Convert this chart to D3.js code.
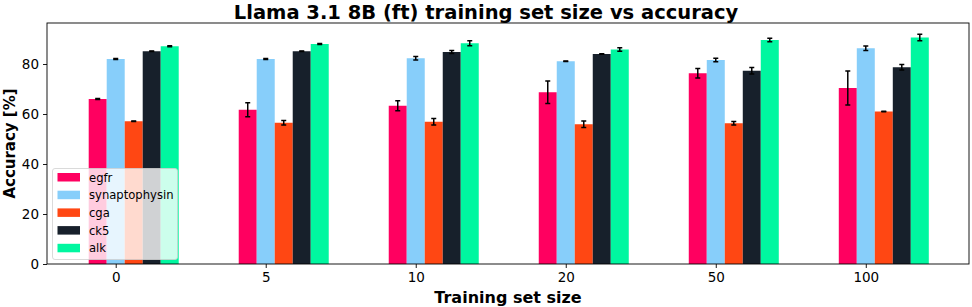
<!DOCTYPE html>
<html><head><meta charset="utf-8">
<script src="https://cdn.jsdelivr.net/npm/d3@7"></script>
<style>body{margin:0;background:#fff}svg{display:block}text{font-family:"DejaVu Sans",sans-serif}</style>
</head><body><svg id="c" width="972" height="307"></svg>
<script>
const categories = ["0","5","10","20","50","100"];
const seriesNames = ["egfr","synaptophysin","cga","ck5","alk"];
const seriesColors = ["#ff0060","#87cefa","#ff4713","#17202b","#00f7a0"];
const egfr = [66.0, 61.7, 63.3, 68.7, 76.3, 70.4];
const synaptophysin = [82.0, 82.0, 82.3, 81.1, 81.6, 86.3];
const cga = [57.1, 56.5, 56.9, 55.9, 56.3, 61.0];
const ck5 = [85.1, 85.1, 84.8, 84.0, 77.3, 78.7];
const alk = [87.1, 88.0, 88.3, 85.8, 89.6, 90.6];
const egfrErr = [0.2, 2.8, 2.0, 4.5, 1.9, 6.8];
const synaptophysinErr = [0.2, 0.2, 0.7, 0.1, 0.7, 0.9];
const cgaErr = [0.1, 0.9, 1.3, 1.3, 0.7, 0.1];
const ck5Err = [0.1, 0.1, 0.6, 0.1, 1.3, 1.1];
const alkErr = [0.2, 0.2, 1.0, 0.7, 0.7, 1.3];
const yTicks = [0, 20, 40, 60, 80];

const values = [egfr, synaptophysin, cga, ck5, alk];
const errs = [egfrErr, synaptophysinErr, cgaErr, ck5Err, alkErr];

const svg = d3.select("#c");
const L = 47, R = 969, T = 23, B = 264;
const x = d3.scaleLinear().domain([-0.458, 5.688]).range([L, R]);
const y = d3.scaleLinear().domain([0, 96.4]).range([B, T]);
const bw = 0.12;

const data = [];
seriesNames.forEach((s, j) => {
  categories.forEach((c, i) => {
    data.push({s: j, i, v: values[j][i], e: errs[j][i]});
  });
});

svg.append("g").selectAll("rect").data(data).join("rect")
  .attr("x", d => x(d.i + (d.s - 1) * bw - bw / 2))
  .attr("width", d => x(d.i + (d.s - 1) * bw + bw / 2) - x(d.i + (d.s - 1) * bw - bw / 2))
  .attr("y", d => y(d.v))
  .attr("height", d => y(0) - y(d.v))
  .attr("fill", d => seriesColors[d.s]);

const eg = svg.append("g").attr("stroke", "#000").attr("stroke-width", 1.5);
data.forEach(d => {
  const cx = x(d.i + (d.s - 1) * bw);
  eg.append("line").attr("x1", cx).attr("x2", cx).attr("y1", y(d.v - d.e)).attr("y2", y(d.v + d.e));
  [d.v - d.e, d.v + d.e].forEach(v => {
    eg.append("line").attr("x1", cx - 2.5).attr("x2", cx + 2.5).attr("y1", y(v)).attr("y2", y(v));
  });
});

// axes
const xAxis = d3.axisBottom(x).tickValues(categories.map((c, i) => i)).tickFormat(i => categories[i]).tickSize(4).tickPadding(4);
const gx = svg.append("g").attr("transform", `translate(0,${B})`).call(xAxis);
const yAxis = d3.axisLeft(y).tickValues(yTicks).tickSize(4).tickPadding(4);
const gy = svg.append("g").attr("transform", `translate(${L},0)`).call(yAxis);
[gx, gy].forEach(g => {
  g.select(".domain").remove();
  g.selectAll("line").attr("stroke", "#000").attr("stroke-width", 0.9);
  g.selectAll("text").attr("font-size", 13.5).attr("fill", "#000").attr("font-family", "DejaVu Sans");
});
svg.append("rect").attr("x", L).attr("y", T).attr("width", R - L).attr("height", B - T)
  .attr("fill", "none").attr("stroke", "#000").attr("stroke-width", 0.9);

// legend
const lg = svg.append("g");
lg.append("rect").attr("x", 52.5).attr("y", 168.5).attr("width", 125).attr("height", 91).attr("rx", 2.5)
  .attr("fill", "#fff").attr("fill-opacity", 0.8).attr("stroke", "#d0d0d0").attr("stroke-width", 0.8);
seriesNames.forEach((s, j) => {
  const cy = 177.3 + j * 17.7;
  lg.append("rect").attr("x", 57.5).attr("y", cy - 4.3).attr("width", 22.5).attr("height", 8.5).attr("fill", seriesColors[j]);
  lg.append("text").attr("x", 89).attr("y", cy + 4.2).attr("font-size", 11.6).text(s);
});

// titles
svg.append("text").attr("x", 486).attr("y", 18.5).attr("text-anchor", "middle")
  .attr("font-size", 19.5).attr("font-weight", "bold").text("Llama 3.1 8B (ft) training set size vs accuracy");
svg.append("text").attr("x", (L + R) / 2).attr("y", 303).attr("text-anchor", "middle")
  .attr("font-size", 16).attr("font-weight", "bold").text("Training set size");
svg.append("text").attr("transform", `translate(15,${(T + B) / 2}) rotate(-90)`).attr("text-anchor", "middle")
  .attr("font-size", 15).attr("font-weight", "bold").text("Accuracy [%]");
</script></body></html>
